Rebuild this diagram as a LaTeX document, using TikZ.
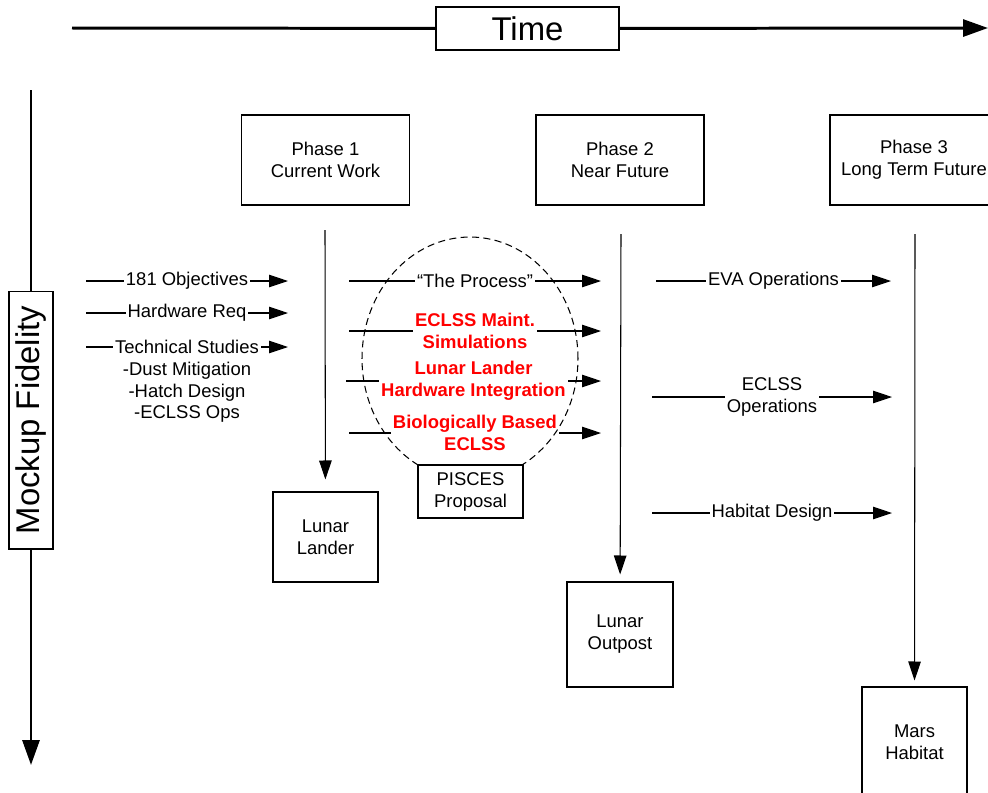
\documentclass[tikz,border=0pt]{standalone}
\usepackage{fontspec}
\setmainfont{Liberation Sans}
\usetikzlibrary{arrows.meta,positioning}
\tikzset{
	box/.style={draw, fill=white, line width=0.6pt, align=center, inner sep=0pt, font=\fontsize{10.5}{12.5}\selectfont},
	conn/.style={line width=0.6pt, -{Triangle[length=0.38cm,width=0.25cm]}},
	lbl/.style={fill=white, inner sep=1pt, align=center, font=\fontsize{10.5}{12.5}\selectfont},
	redlbl/.style={lbl, text=red, font=\fontsize{10.5}{12.5}\selectfont\bfseries},
	axis/.style={line width=1.7pt, -{Triangle[length=0.5cm,width=0.34cm]}}
}

\begin{document}
\begin{tikzpicture}[x=0.02cm, y=-0.02cm]
			\useasboundingbox (0,0) rectangle (988,792);
			\clip (0,0) rectangle (988,792);
			%%%%% START %%%%%
			\node[box, minimum width=3.66cm, minimum height=0.86cm, font=\fontsize{18.7}{22}\selectfont] (time) at (527.5,28.5) {Time};
			\coordinate (t0) at (72,28);
			\coordinate (t1) at (988,28);
			\draw[line width=1.7pt] (t0) -- (time);
			\draw[axis] (time) -- (t1);
			
			\node[box, rotate=90, minimum width=5.16cm, minimum height=0.88cm, font=\fontsize{18.7}{22}\selectfont] (fid) at (31,420) {Mockup Fidelity};
			\coordinate (f0) at (31,90);
			\coordinate (f1) at (31,765);
			\draw[line width=1.7pt] (f0) -- (fid);
			\draw[axis] (fid) -- (f1);
			
			%%%%% PHASES %%%%%
			\node[box, minimum width=3.36cm, minimum height=1.8cm] (ph1) at (325.5,160) {Phase 1\\Current Work};
			\node[box, minimum width=3.36cm, minimum height=1.8cm] (ph2) at (620,160) {Phase 2\\Near Future};
			\node[box, minimum width=3.36cm, minimum height=1.8cm] (ph3) at (914,160) {Phase 3\\Long Term Future};
			
			\node[box, minimum width=2.1cm, minimum height=1.8cm] (lander) at (325.5,537) {Lunar\\Lander};
			\node[box, minimum width=2.12cm, minimum height=2.1cm] (outpost) at (620,634.5) {Lunar\\Outpost};
			\node[box, minimum width=2.1cm, minimum height=2.2cm] (mars) at (914.5,742) {Mars\\Habitat};
			
			\coordinate (v1) at (325,230);
			\coordinate (v2) at (621,234);
			\coordinate (v3) at (915,234);
			\draw[conn, shorten >=0.24cm] (v1) -- (lander);
			\draw[conn, shorten >=0.14cm] (v2) -- (outpost);
			\draw[conn, shorten >=0.12cm] (v3) -- (mars);
			
			%%%%% PHASE 1 INPUTS %%%%%
			\coordinate (a1) at (86,281);
			\coordinate (b1) at (288,281);
			\coordinate (a2) at (86,313);
			\coordinate (b2) at (288,313);
			\coordinate (a3) at (86,347);
			\coordinate (b3) at (288,347);
			\draw[conn] (a1) -- node[lbl] (obj) {181 Objectives} (b1);
			\draw[conn] (a2) -- node[lbl] (hw) {Hardware Req} (b2);
			\draw[conn] (a3) -- node[lbl] (tech) {Technical Studies} (b3);
			\node[lbl, fill=none, below=2pt of tech] (studies) {-Dust Mitigation\\-Hatch Design\\-ECLSS Ops};
			
			%%%%% PHASE 2 INPUTS %%%%%
			\coordinate (c1) at (349,281);
			\coordinate (d1) at (601,281);
			\coordinate (c2) at (349,331);
			\coordinate (d2) at (601,331);
			\coordinate (c3) at (346,381);
			\coordinate (d3) at (601,381);
			\coordinate (c4) at (349,433);
			\coordinate (d4) at (601,433);
			\draw[conn] (c1) -- node[lbl] (proc) {“The Process”} (d1);
			\draw[conn] (c2) -- node[redlbl] (maint) {ECLSS Maint.\\Simulations} (d2);
			\draw[conn] (c3) -- node[redlbl] (integ) {Lunar Lander\\Hardware Integration} (d3);
			\draw[conn] (c4) -- node[redlbl] (bio) {Biologically Based\\ECLSS} (d4);
			
			\draw[line width=0.6pt, dash pattern=on 4pt off 2.5pt] (470,358.5) ellipse [x radius=2.16cm, y radius=2.43cm];
			\node[box, minimum width=2.1cm, minimum height=1.06cm] (pisces) at (470.5,491.5) {PISCES\\Proposal};
			
			%%%%% PHASE 3 INPUTS %%%%%
			\coordinate (e1) at (656,281);
			\coordinate (g1) at (891,281);
			\coordinate (e2) at (652,397);
			\coordinate (g2) at (892,397);
			\coordinate (e3) at (652,513);
			\coordinate (g3) at (892,513);
			\draw[conn] (e1) -- node[lbl] (eva) {EVA Operations} (g1);
			\draw[conn] (e2) -- node[lbl] (ops) {ECLSS\\Operations} (g2);
			\draw[conn] (e3) -- node[lbl] (hab) {Habitat Design} (g3);
			%%%%% END %%%%%
		\end{tikzpicture}
\end{document}
